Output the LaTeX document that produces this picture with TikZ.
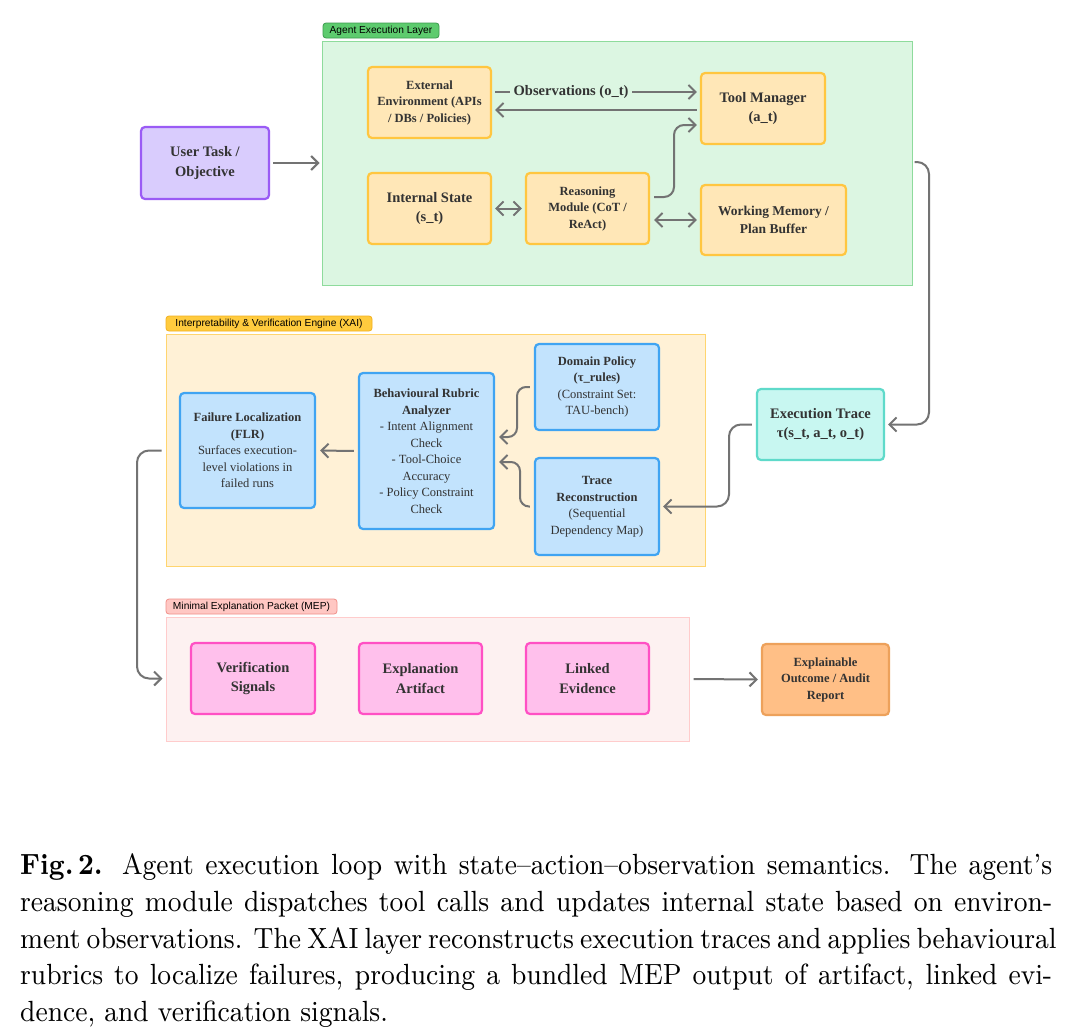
\documentclass[tikz,border=0pt]{standalone}
\usepackage{fontspec}
\usetikzlibrary{arrows.meta,calc}
\newfontfamily\boxfont{Liberation Serif}[Ligatures=TeX]
\newfontfamily\labfont{Liberation Sans}[Ligatures=TeX]
\newfontfamily\capfont{lmroman9-regular.otf}[BoldFont=lmroman9-bold.otf,Ligatures=TeX]
\definecolor{txt}{HTML}{333333}
\definecolor{arrc}{HTML}{737373}
\definecolor{glabf}{HTML}{5DCB6E}\definecolor{glabd}{HTML}{3B9B4E}
\definecolor{gconf}{HTML}{DCF6E2}\definecolor{gcond}{HTML}{8EDB9C}
\definecolor{purf}{HTML}{D9CCFD}\definecolor{purd}{HTML}{9A5BF5}
\definecolor{orf}{HTML}{FFE7B7}\definecolor{ord}{HTML}{FFC640}
\definecolor{ylabf}{HTML}{FFCB3E}\definecolor{ylabd}{HTML}{F2B01F}
\definecolor{yconf}{HTML}{FFF1D6}\definecolor{ycond}{HTML}{FFD56F}
\definecolor{bluf}{HTML}{C2E3FD}\definecolor{blud}{HTML}{40A4F2}
\definecolor{teaf}{HTML}{C8F7F1}\definecolor{tead}{HTML}{5FDACA}
\definecolor{rlabf}{HTML}{FFC7C3}\definecolor{rlabd}{HTML}{F0908A}
\definecolor{rconf}{HTML}{FDF1F1}\definecolor{rcond}{HTML}{FFCCCC}
\definecolor{pinf}{HTML}{FFC0EC}\definecolor{pind}{HTML}{FF50C4}
\definecolor{outf}{HTML}{FFBF86}\definecolor{outd}{HTML}{EDA15B}
\tikzset{
  box/.style={draw, line width=2.2pt, rounded corners=4pt, align=center, inner sep=2pt, text=txt},
  bigtext/.style={font=\boxfont\bfseries\fontsize{14.5}{19.5}\selectfont},
  midtext/.style={font=\boxfont\bfseries\fontsize{12.5}{16.5}\selectfont},
  bluetext/.style={font=\boxfont\fontsize{12.5}{16.5}\selectfont},
  obox/.style={box, fill=orf, draw=ord},
  pbox/.style={box, fill=purf, draw=purd, bigtext},
  bbox/.style={box, fill=bluf, draw=blud, bluetext},
  tbox/.style={box, fill=teaf, draw=tead, bigtext},
  kbox/.style={box, fill=pinf, draw=pind, bigtext},
  ubox/.style={box, fill=outf, draw=outd, midtext},
  container/.style={line width=1pt, inner sep=0pt},
  layerlab/.style={draw, line width=0.8pt, rounded corners=3pt, inner sep=0pt, text=black, font=\labfont\fontsize{10.2}{12}\selectfont},
  arr/.style={draw=arrc, line width=2pt, -{Straight Barb[length=7pt,width=14pt]}},
  biarr/.style={draw=arrc, line width=2pt, {Straight Barb[length=7pt,width=14pt]}-{Straight Barb[length=7pt,width=14pt]}},
}
\begin{document}
\begin{tikzpicture}[x=1pt,y=-1pt]
\useasboundingbox[fill=white] (0,0) rectangle (1068,1028);
% containers
\node[container, fill=gconf, draw=gcond, minimum width=590pt, minimum height=244pt] (green) at (617,163) {};
\node[layerlab, fill=glabf, draw=glabd, minimum width=116pt, minimum height=15pt] (glab) at (381,30.5) {Agent Execution Layer};
\node[container, fill=yconf, draw=ycond, minimum width=539pt, minimum height=232pt] (xai) at (435.5,450) {};
\node[layerlab, fill=ylabf, draw=ylabd, minimum width=206pt, minimum height=15pt] (ylab) at (269,323.5) {Interpretability \& Verification Engine (XAI)};
\node[container, fill=rconf, draw=rcond, minimum width=523pt, minimum height=124pt] (mep) at (427.5,679) {};
\node[layerlab, fill=rlabf, draw=rlabd, minimum width=171pt, minimum height=15pt] (rlab) at (251.5,606.5) {Minimal Explanation Packet (MEP)};
% nodes
\node[pbox, minimum width=128pt, minimum height=72pt] (user) at (205,163) {User Task /\\Objective};
\node[obox, midtext, minimum width=123pt, minimum height=71pt] (ext) at (429.5,102.5) {External\\Environment (APIs\\/ DBs / Policies)};
\node[obox, bigtext, minimum width=124pt, minimum height=71pt] (tool) at (763,108.5) {Tool Manager\\(a\_t)};
\node[obox, bigtext, minimum width=123pt, minimum height=71pt] (int) at (429.5,208.5) {Internal State\\(s\_t)};
\node[obox, midtext, minimum width=123pt, minimum height=71pt] (rea) at (587.5,208.5) {Reasoning\\Module (CoT /\\ReAct)};
\node[obox, font=\boxfont\bfseries\fontsize{13.5}{18}\selectfont, minimum width=145pt, minimum height=70pt] (wm) at (773.5,220) {Working Memory /\\Plan Buffer};
\node[tbox, minimum width=127pt, minimum height=71pt] (exec) at (820.5,424.5) {Execution Trace\\τ(s\_t, a\_t, o\_t)};
\node[bbox, minimum width=124pt, minimum height=86pt] (dom) at (597,387) {\textbf{Domain Policy}\\\textbf{(τ\_rules)}\\(Constraint Set:\\TAU-bench)};
\node[bbox, minimum width=124pt, minimum height=97pt] (trace) at (597,506.5) {\textbf{Trace}\\\textbf{Reconstruction}\\(Sequential\\Dependency Map)};
\node[bbox, minimum width=135pt, minimum height=156pt] (rub) at (426.5,451) {\textbf{Behavioural Rubric}\\\textbf{Analyzer}\\- Intent Alignment\\Check\\- Tool-Choice\\Accuracy\\- Policy Constraint\\Check};
\node[bbox, minimum width=135pt, minimum height=115pt] (flr) at (247.5,450.5) {\textbf{Failure Localization}\\\textbf{(FLR)}\\Surfaces execution-\\level violations in\\failed runs};
\node[kbox, minimum width=124pt, minimum height=71pt] (vs) at (253,678.5) {Verification\\Signals};
\node[kbox, minimum width=123pt, minimum height=71pt] (ea) at (420.5,678.5) {Explanation\\Artifact};
\node[kbox, minimum width=123pt, minimum height=71pt] (le) at (587.5,678.5) {Linked\\Evidence};
\node[ubox, minimum width=127pt, minimum height=71pt] (out) at (825.5,679.5) {Explainable\\Outcome / Audit\\Report};
% connectors
\draw[arr, shorten <=3pt, shorten >=2pt] (user.east) -- (green.west |- user.east);
\draw[arr, shorten <=3pt, shorten >=3pt] (ext.east |- 0,92) -- node[pos=0.38, fill=gconf, inner sep=4pt, text=txt, font=\boxfont\bfseries\fontsize{14.5}{17}\selectfont] (obs) {Observations (o\_t)} (tool.west |- 0,92);
\draw[arr, shorten <=3pt, shorten >=3pt] (tool.west |- 0,110) -- (ext.east |- 0,110);
\draw[biarr, shorten <=3pt, shorten >=3pt] (int.east) -- (rea.west);
\draw[arr, rounded corners=10pt, shorten <=4pt, shorten >=3pt] (rea.east |- 0,197) -| (674,125) -- (tool.west |- 0,125);
\draw[biarr, shorten <=4pt, shorten >=3pt] (rea.east |- wm.west) -- (wm.west);
\draw[arr, rounded corners=12pt, shorten <=2pt, shorten >=3pt] (green.east |- 0,162) -| (929,424.5) -- (exec.east);
\draw[arr, rounded corners=12pt, shorten <=4pt, shorten >=3pt] (exec.west) -| (729,506.5) -- (trace.east);
\draw[arr, rounded corners=9pt, shorten <=4pt, shorten >=4pt] (dom.west) -| (517,437) -- (rub.east |- 0,437);
\draw[arr, rounded corners=9pt, shorten <=4pt, shorten >=4pt] (trace.west) -| (520,462) -- (rub.east |- 0,462);
\draw[arr, shorten <=4pt, shorten >=4pt] (rub.west) -- (flr.east);
\draw[arr, rounded corners=12pt, shorten <=4pt, shorten >=3pt] (xai.west |- flr.west) -| (137,678.5) -- (mep.west |- vs.west);
\draw[arr, shorten <=4pt, shorten >=3pt] (mep.east) -- (out.west);
% caption
\node[anchor=north west, inner sep=0pt, font=\capfont\fontsize{26.8}{33.9}\selectfont] (cap) at (20,853) {\scalebox{1}[1.09]{\parbox[t]{1032pt}{%
\makebox[1032pt][s]{\textbf{Fig.\,2.} Agent execution loop with state--action--observation semantics. The agent's}\\
\makebox[1032pt][s]{reasoning module dispatches tool calls and updates internal state based on environ-}\\
\makebox[1032pt][s]{ment observations. The XAI layer reconstructs execution traces and applies behavioural}\\
\makebox[1032pt][s]{rubrics to localize failures, producing a bundled MEP output of artifact, linked evi-}\\
dence, and verification signals.}}};
\end{tikzpicture}
\end{document}
